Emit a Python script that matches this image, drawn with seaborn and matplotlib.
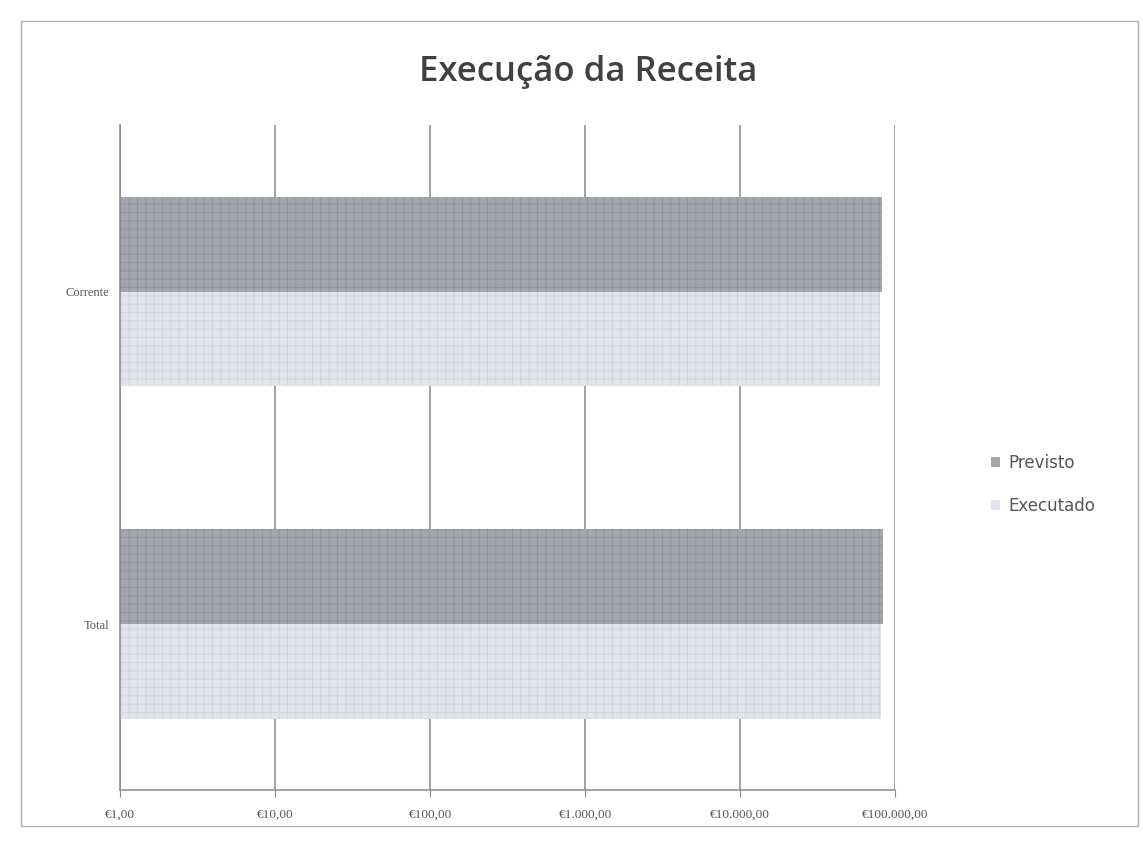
import numpy as np
import pandas as pd
import seaborn as sns
import matplotlib.pyplot as plt
from matplotlib.patches import Rectangle
from matplotlib.ticker import FixedLocator, NullLocator

# data (log scale, values in euros)
categorias = ["Corrente", "Total"]
series = ["Previsto", "Executado"]
previsto = [83000, 84000]
executado = [80000, 81000]
tick_vals = [1, 10, 100, 1000, 10000, 100000]
tick_labels = ["€1,00", "€10,00", "€100,00", "€1.000,00", "€10.000,00", "€100.000,00"]

cores = {"Previsto": "#a3a6ad", "Executado": "#e1e4ec"}

df = pd.DataFrame({
    "categoria": categorias * 2,
    "serie": ["Previsto"] * 2 + ["Executado"] * 2,
    "valor": previsto + executado,
})

sns.set_style("white")
plt.rcParams["hatch.linewidth"] = 0.6

fig = plt.figure(figsize=(11.43, 8.47), dpi=100)
ax = fig.add_axes([0.105, 0.067, 0.678, 0.785])

sns.barplot(data=df, y="categoria", x="valor", hue="serie", order=categorias,
            hue_order=series, palette=cores, orient="h", width=0.57,
            saturation=1, ax=ax, legend=True, linewidth=0)

for bar, hc in zip(ax.patches, ["#8f939b"] * 2 + ["#cfd3dc"] * 2):
    bar.set_hatch("++")
    bar.set_edgecolor(hc)
    bar.set_linewidth(0)

ax.set_xscale("log")
ax.set_xlim(1, 100000)
ax.set_ylim(1.5, -0.5)
ax.xaxis.set_major_locator(FixedLocator(tick_vals))
ax.xaxis.set_minor_locator(NullLocator())
ax.set_xticklabels(tick_labels, fontsize=9.5, color="#555555", family="Liberation Serif")
ax.set_yticklabels(categorias, fontsize=9, color="#555555", family="Liberation Serif")
ax.set_xlabel("")
ax.set_ylabel("")
ax.xaxis.grid(True, color="#8a8a8a", linewidth=1.1)
ax.set_axisbelow(True)
ax.tick_params(axis="x", length=5, color="#8a8a8a", pad=8, bottom=True)
ax.tick_params(axis="y", length=0, pad=8)
for s in ["top", "right"]:
    ax.spines[s].set_visible(False)
for s in ["left", "bottom"]:
    ax.spines[s].set_color("#8a8a8a")
    ax.spines[s].set_linewidth(1.1)

handles, labels = ax.get_legend_handles_labels()
ax.legend(handles, labels, loc="center left", bbox_to_anchor=(1.105, 0.46),
          frameon=False, fontsize=12, labelcolor="#555555",
          handlelength=0.5, handleheight=0.5, handletextpad=0.5,
          labelspacing=1.5)

fig.suptitle("Execução da Receita", fontsize=25, fontweight="semibold",
             color="#404040", x=0.515, y=0.935, family="Open Sans")

fig.patches.append(Rectangle((0.018, 0.025), 0.978, 0.95, transform=fig.transFigure,
                             fill=False, edgecolor="#b0b0b0", linewidth=1))

fig.savefig("out.png", dpi=100)
